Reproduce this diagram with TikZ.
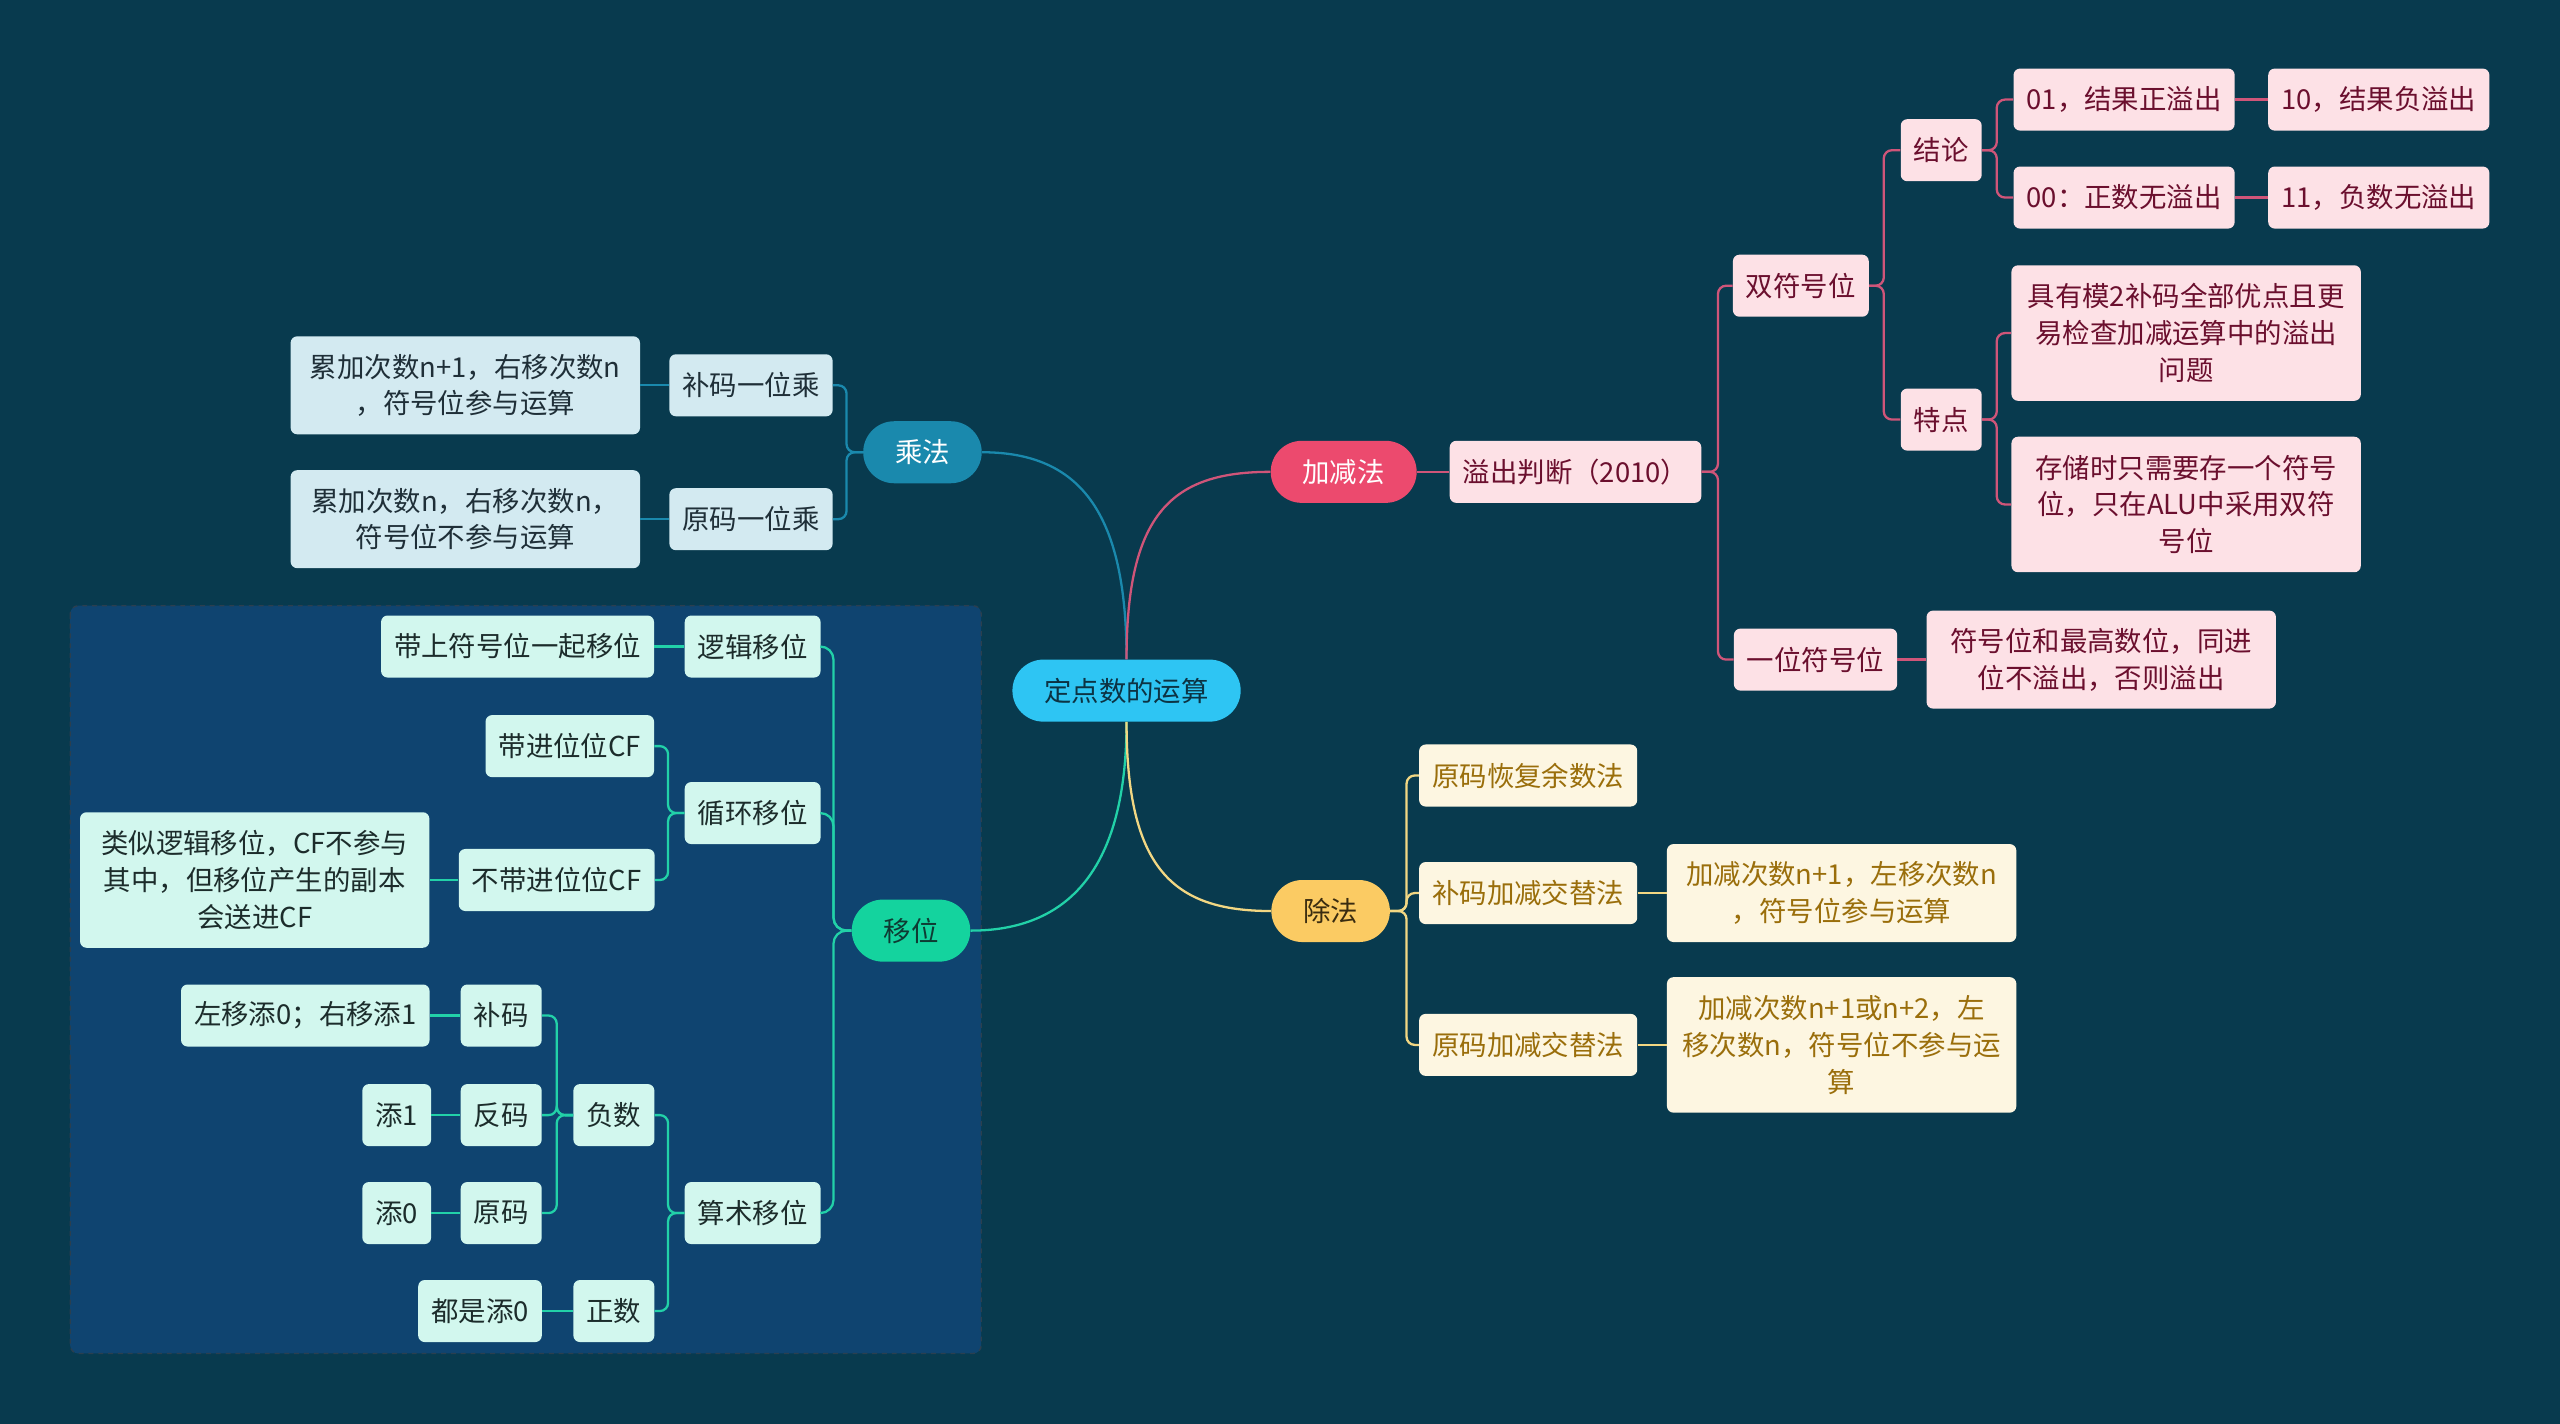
\documentclass[tikz,border=0pt]{standalone}
\usepackage{fontspec}
\setmainfont{Noto Sans CJK SC}

\definecolor{bgc}{HTML}{083A4E}
\definecolor{boxc}{HTML}{0F4470}
\definecolor{boxline}{HTML}{2B3F4F}
\definecolor{rootc}{HTML}{2EC5F3}
\definecolor{roottxt}{HTML}{0C3343}
\definecolor{mulc}{HTML}{1A89AD}
\definecolor{bluebox}{HTML}{D3EAF1}
\definecolor{bluetxt}{HTML}{1F2F38}
\definecolor{addc}{HTML}{EC4A6E}
\definecolor{addline}{HTML}{CF5579}
\definecolor{pinkbox}{HTML}{FDE1E6}
\definecolor{pinktxt}{HTML}{6B0F2E}
\definecolor{divc}{HTML}{FBCB63}
\definecolor{divtxt}{HTML}{3A2C10}
\definecolor{divline}{HTML}{F2D783}
\definecolor{creambox}{HTML}{FDF6E1}
\definecolor{creamtxt}{HTML}{9A6E0B}
\definecolor{shiftc}{HTML}{14D39E}
\definecolor{shifttxt}{HTML}{0E3B33}
\definecolor{shiftline}{HTML}{22D1A8}
\definecolor{mintbox}{HTML}{D2F7EE}
\definecolor{minttxt}{HTML}{1C2C2B}

\begin{document}
\begin{tikzpicture}[x=1pt, y=-1pt,
  every node/.style={font=\fontsize{16.8pt}{22.5pt}\selectfont, inner xsep=8pt,
    inner ysep=3pt, minimum height=38pt, rounded corners=4pt, align=center},
  main/.style={rounded corners=19pt, inner xsep=19.5pt},
  wide/.style={text width=198pt},
  bluen/.style={fill=bluebox, text=bluetxt},
  pinkn/.style={fill=pinkbox, text=pinktxt},
  creamn/.style={fill=creambox, text=creamtxt},
  mintn/.style={fill=mintbox, text=minttxt},
  conn/.style={line width=1.4pt, rounded corners=5pt},
  mulline/.style={conn, draw=mulc},
  addsubline/.style={conn, draw=addline},
  divl/.style={conn, draw=divline},
  shiftl/.style={conn, draw=shiftline}]

  \fill[bgc] (0,0) rectangle (1568,872);
  \useasboundingbox (0,0) rectangle (1568,872);

  % shift group frame
  \fill[boxc, rounded corners=5pt] (43,371) rectangle (601,829);
  \draw[boxline, dashed, line width=0.8pt, rounded corners=5pt] (43,371) rectangle (601,829);

  \node[main, fill=rootc, text=roottxt] (root) at (690,423) {定点数的运算};

  % multiplication
  \node[main, fill=mulc, text=white] (mul) at (565,277) {乘法};
  \node[bluen] (bm) at (460,236) {补码一位乘};
  \node[bluen] (ym) at (460,318) {原码一位乘};
  \node[bluen, wide, minimum height=60pt] (bmt) at (285,236) {累加次数n+1，右移次数n\\，符号位参与运算};
  \node[bluen, wide, minimum height=60pt] (ymt) at (285,318) {累加次数n，右移次数n，\\符号位不参与运算};

  % addition / subtraction
  \node[main, fill=addc, text=white] (addsub) at (823,289) {加减法};
  \node[pinkn] (yc) at (965,289) {溢出判断（2010）};
  \node[pinkn] (sf) at (1103,175) {双符号位};
  \node[pinkn] (jl) at (1189,92) {结论};
  \node[pinkn] (a01) at (1301,61) {01，结果正溢出};
  \node[pinkn] (a10) at (1457,61) {10，结果负溢出};
  \node[pinkn] (a00) at (1301,121) {00：正数无溢出};
  \node[pinkn] (a11) at (1457,121) {11，负数无溢出};
  \node[pinkn] (td) at (1189,257) {特点};
  \node[pinkn, wide, minimum height=83pt] (tdA) at (1339,204) {具有模2补码全部优点且更\\易检查加减运算中的溢出\\问题};
  \node[pinkn, wide, minimum height=83pt] (tdB) at (1339,309) {存储时只需要存一个符号\\位，只在ALU中采用双符\\号位};
  \node[pinkn] (yf) at (1112,404) {一位符号位};
  \node[pinkn, wide, minimum height=60pt] (yft) at (1287,404) {符号位和最高数位，同进\\位不溢出，否则溢出};

  % division
  \node[main, fill=divc, text=divtxt] (div) at (815,558) {除法};
  \node[creamn] (hf) at (936,475) {原码恢复余数法};
  \node[creamn] (bj) at (936,547) {补码加减交替法};
  \node[creamn] (yj) at (936,640) {原码加减交替法};
  \node[creamn, wide, minimum height=60pt] (bjt) at (1128,547) {加减次数n+1，左移次数n\\，符号位参与运算};
  \node[creamn, wide, minimum height=83pt] (yjt) at (1128,640) {加减次数n+1或n+2，左\\移次数n，符号位不参与运\\算};

  % shift
  \node[main, fill=shiftc, text=shifttxt] (shift) at (558,570) {移位};
  \node[mintn] (lj) at (461,396) {逻辑移位};
  \node[mintn] (ljt) at (317,396) {带上符号位一起移位};
  \node[mintn] (xh) at (461,498) {循环移位};
  \node[mintn] (dj) at (349,457) {带进位位CF};
  \node[mintn] (bdj) at (341,539) {不带进位位CF};
  \node[mintn, wide, minimum height=83pt] (bdjt) at (156,539) {类似逻辑移位，CF不参与\\其中，但移位产生的副本\\会送进CF};
  \node[mintn] (ss) at (461,743) {算术移位};
  \node[mintn] (fs) at (376,683) {负数};
  \node[mintn] (zs) at (376,803) {正数};
  \node[mintn] (bu) at (307,622) {补码};
  \node[mintn] (fa) at (307,683) {反码};
  \node[mintn] (yu) at (307,743) {原码};
  \node[mintn] (buT) at (187,622) {左移添0；右移添1};
  \node[mintn] (faT) at (243,683) {添1};
  \node[mintn] (yuT) at (243,743) {添0};
  \node[mintn] (zsT) at (294,803) {都是添0};

  % main branches
  \draw[mulline] (root.north) .. controls +(0,-90) and +(60,0) .. (mul.east);
  \draw[addsubline] (root.north) .. controls +(0,-90) and +(-60,0) .. (addsub.west);
  \draw[shiftl] (root.south) .. controls +(0,90) and +(60,0) .. (shift.east);
  \draw[divl] (root.south) .. controls +(0,90) and +(-60,0) .. (div.west);

  \draw[mulline] (mul.west) -- ++(-10,0) |- (bm.east);
  \draw[mulline] (mul.west) -- ++(-10,0) |- (ym.east);
  \draw[mulline] (bm.west) -- (bmt.east);
  \draw[mulline] (ym.west) -- (ymt.east);

  \draw[addsubline] (addsub.east) -- (yc.west);
  \draw[addsubline] (yc.east) -- ++(10,0) |- (sf.west);
  \draw[addsubline] (yc.east) -- ++(10,0) |- (yf.west);
  \draw[addsubline] (sf.east) -- ++(9,0) |- (jl.west);
  \draw[addsubline] (sf.east) -- ++(9,0) |- (td.west);
  \draw[addsubline] (jl.east) -- ++(9,0) |- (a01.west);
  \draw[addsubline] (jl.east) -- ++(9,0) |- (a00.west);
  \draw[addsubline] (td.east) -- ++(9,0) |- (tdA.west);
  \draw[addsubline] (td.east) -- ++(9,0) |- (tdB.west);
  \draw[addsubline] (a01.east) -- (a10.west);
  \draw[addsubline] (a00.east) -- (a11.west);
  \draw[addsubline] (yf.east) -- (yft.west);

  \draw[divl] (div.east) -- ++(10,0) |- (hf.west);
  \draw[divl] (div.east) -- ++(10,0) |- (bj.west);
  \draw[divl] (div.east) -- ++(10,0) |- (yj.west);
  \draw[divl] (bj.east) -- (bjt.west);
  \draw[divl] (yj.east) -- (yjt.west);

  \draw[shiftl, rounded corners=8pt] (shift.west) -- ++(-11,0) |- (lj.east);
  \draw[shiftl, rounded corners=8pt] (shift.west) -- ++(-11,0) |- (xh.east);
  \draw[shiftl, rounded corners=8pt] (shift.west) -- ++(-11,0) |- (ss.east);
  \draw[shiftl] (lj.west) -- (ljt.east);
  \draw[shiftl] (xh.west) -- ++(-10,0) |- (dj.east);
  \draw[shiftl] (xh.west) -- ++(-10,0) |- (bdj.east);
  \draw[shiftl] (bdj.west) -- (bdjt.east);
  \draw[shiftl] (ss.west) -- ++(-10,0) |- (fs.east);
  \draw[shiftl] (ss.west) -- ++(-10,0) |- (zs.east);
  \draw[shiftl] (fs.west) -- ++(-10,0) |- (bu.east);
  \draw[shiftl] (fs.west) -- ++(-10,0) |- (fa.east);
  \draw[shiftl] (fs.west) -- ++(-10,0) |- (yu.east);
  \draw[shiftl] (bu.west) -- (buT.east);
  \draw[shiftl] (fa.west) -- (faT.east);
  \draw[shiftl] (yu.west) -- (yuT.east);
  \draw[shiftl] (zs.west) -- (zsT.east);

\end{tikzpicture}
\end{document}
